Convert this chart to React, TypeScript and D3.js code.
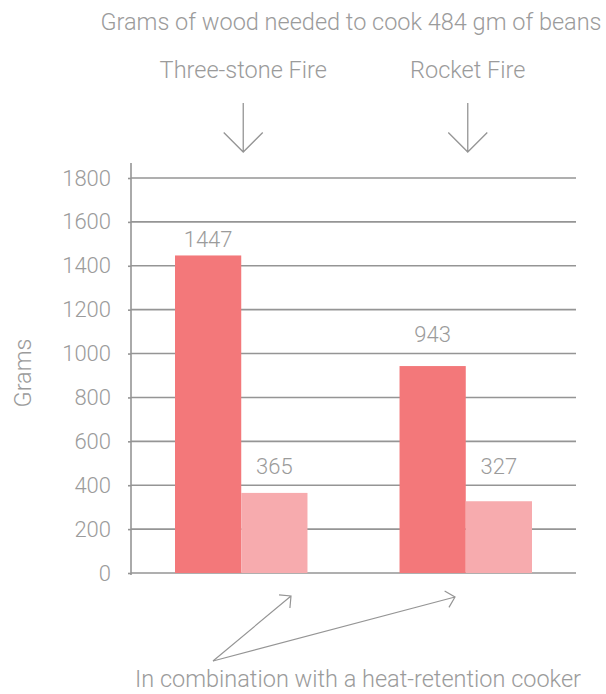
import React, { useEffect, useRef } from "react";
import * as d3 from "d3";

// Stove types compared, and grams of wood burned by each setup
const groups = ["Three-stone Fire", "Rocket Fire"];
const fireOnly = [1447, 943];
const withCooker = [365, 327];
const yTicks = [0, 200, 400, 600, 800, 1000, 1200, 1400, 1600, 1800];

const title = "Grams of wood needed to cook 484 gm of beans";
const yLabel = "Grams";
const footnote = "In combination with a heat-retention cooker";

const W = 606;
const H = 694;
const TEXT = "#9b9b9b";
const LINE = "#959595";
const FONT = "Roboto, 'Open Sans', sans-serif";
const COLORS = { fire: "#f3787a", cooker: "#f7abae" };
const WORD_SIZE = 23.5;
const NUM_SIZE = 22;

// Distance between each value label baseline and its bar top
const labelGap = { fire: [8, 24], cooker: [19, 27] };

export default function App() {
  const ref = useRef<SVGSVGElement>(null);

  useEffect(() => {
    const svg = d3.select(ref.current);
    svg.selectAll("*").remove();

    const left = 131;
    const right = 576;
    const y = d3.scaleLinear().domain([0, 1800]).range([573, 178]);
    const x0 = d3
      .scaleBand<string>()
      .domain(groups)
      .range([left, right])
      .paddingInner(0.41)
      .paddingOuter(0.196);
    const x1 = d3
      .scaleBand<string>()
      .domain(["fire", "cooker"])
      .range([0, x0.bandwidth()]);

    const g = svg.append("g").style("font-family", FONT);

    // Title
    g.append("text")
      .attr("x", 351)
      .attr("y", 30)
      .attr("text-anchor", "middle")
      .attr("font-size", WORD_SIZE)
      .attr("font-weight", 300)
      .attr("fill", TEXT)
      .text(title);

    // Group headers with down arrows
    groups.forEach((name) => {
      const cx = (x0(name) as number) + x0.bandwidth() / 2 + 2;
      g.append("text")
        .attr("x", cx)
        .attr("y", 78)
        .attr("text-anchor", "middle")
        .attr("font-size", WORD_SIZE)
        .attr("font-weight", 300)
        .attr("fill", TEXT)
        .text(name);
      g.append("path")
        .attr(
          "d",
          `M${cx},103 L${cx},152 M${cx - 19.5},132.5 L${cx},152 L${cx + 19.5},132.5`
        )
        .attr("fill", "none")
        .attr("stroke", LINE)
        .attr("stroke-width", 1.3);
    });

    // Gridlines
    g.append("g")
      .selectAll("line")
      .data(yTicks)
      .join("line")
      .attr("x1", left)
      .attr("x2", right)
      .attr("y1", (d) => y(d))
      .attr("y2", (d) => y(d))
      .attr("stroke", LINE)
      .attr("stroke-width", 1.6);

    // Y axis
    const axis = g
      .append("g")
      .attr("transform", `translate(${left},0)`)
      .call(
        d3
          .axisLeft(y)
          .tickValues(yTicks)
          .tickSize(3)
          .tickPadding(17)
          .tickFormat((d) => String(d))
      );
    axis.select(".domain").remove();
    axis.selectAll(".tick line").attr("stroke", LINE).attr("stroke-width", 1.6);
    axis
      .selectAll(".tick text")
      .attr("fill", TEXT)
      .attr("font-size", NUM_SIZE)
      .attr("font-weight", 300)
      .attr("font-family", FONT);
    g.append("line")
      .attr("x1", left)
      .attr("x2", left)
      .attr("y1", 163)
      .attr("y2", y(0) + 2)
      .attr("stroke", LINE)
      .attr("stroke-width", 1.6);

    // Y axis title
    g.append("text")
      .attr("transform", `translate(31,373) rotate(-90)`)
      .attr("text-anchor", "middle")
      .attr("font-size", WORD_SIZE)
      .attr("font-weight", 300)
      .attr("fill", TEXT)
      .text(yLabel);

    // Bars and value labels
    const rows = groups.flatMap((name, i) => [
      { name, key: "fire", value: fireOnly[i], gap: labelGap.fire[i] },
      { name, key: "cooker", value: withCooker[i], gap: labelGap.cooker[i] },
    ]);
    const bx = (d: { name: string; key: string }) =>
      (x0(d.name) as number) + (x1(d.key) as number);

    g.append("g")
      .selectAll("rect")
      .data(rows)
      .join("rect")
      .attr("x", bx)
      .attr("y", (d) => y(d.value))
      .attr("width", x1.bandwidth())
      .attr("height", (d) => y(0) - y(d.value))
      .attr("fill", (d) => COLORS[d.key as "fire" | "cooker"]);

    g.append("g")
      .selectAll("text")
      .data(rows)
      .join("text")
      .attr("x", (d) => bx(d) + x1.bandwidth() / 2)
      .attr("y", (d) => y(d.value) - d.gap)
      .attr("text-anchor", "middle")
      .attr("font-size", NUM_SIZE)
      .attr("font-weight", 300)
      .attr("fill", TEXT)
      .text((d) => String(d.value));

    // Footnote with pointers to the heat-retention bars
    const origin: [number, number] = [213, 661];
    const tips: [number, number][] = [
      [291, 596],
      [455, 597],
    ];
    tips.forEach(([tx, ty]) => {
      const ang = Math.atan2(ty - origin[1], tx - origin[0]);
      const len = 12;
      const a1 = ang + Math.PI - Math.PI / 4;
      const a2 = ang + Math.PI + Math.PI / 4;
      g.append("path")
        .attr(
          "d",
          `M${origin[0]},${origin[1]} L${tx},${ty} M${tx + len * Math.cos(a1)},${
            ty + len * Math.sin(a1)
          } L${tx},${ty} L${tx + len * Math.cos(a2)},${ty + len * Math.sin(a2)}`
        )
        .attr("fill", "none")
        .attr("stroke", LINE)
        .attr("stroke-width", 1.2);
    });

    g.append("text")
      .attr("x", 358)
      .attr("y", 687)
      .attr("text-anchor", "middle")
      .attr("font-size", WORD_SIZE)
      .attr("font-weight", 300)
      .attr("fill", TEXT)
      .text(footnote);
  }, []);

  return (
    <svg
      ref={ref}
      width={W}
      height={H}
      style={{ position: "absolute", left: 0, top: 0, background: "#fff" }}
    />
  );
}
